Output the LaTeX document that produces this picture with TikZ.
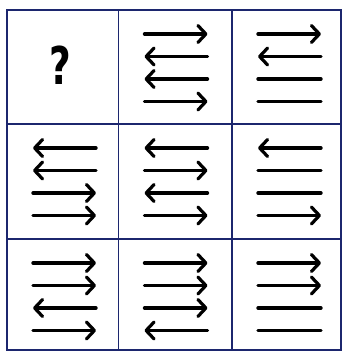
\documentclass[tikz,border=0pt]{standalone}
\usepackage{fontspec}
\usepackage{tikz}
\usetikzlibrary{arrows.meta}
\newfontfamily\qfont{DejaVu Sans}
\definecolor{gridblue}{RGB}{28,38,110}

\begin{document}
\begin{tikzpicture}[
    x=1pt, y=-1pt,
    grid/.style={draw=gridblue, line width=1.8pt},
    bar/.style={line width=3.4pt, line cap=round},
    barb/.tip={Straight Barb[length=8pt, width=17pt, line width=3.2pt, round]},
    dir r/.style={-barb},
    dir l/.style={barb-},
    dir n/.style={},
  ]
  \useasboundingbox (0,0) rectangle (345,354);

  % grid
  \draw[grid] (7,10) rectangle (341,350);
  \draw[grid] (118.5,10) -- (118.5,350);
  \draw[grid] (232,10) -- (232,350);
  \draw[grid] (7,124) -- (341,124);
  \draw[grid] (7,239) -- (341,239);

  % missing cell
  \node[font=\qfont\bfseries\fontsize{52}{52}\selectfont, xscale=0.72] (qmark) at (60,65) {?};

  % arrow cells: left/top of cell, then the four rows
  \foreach \cx/\cy/\a/\b/\c/\d in {
      118.5/10/r/l/l/r, 232/10/r/l/n/n,
      7/124/l/l/r/r, 118.5/124/l/r/l/r, 232/124/l/n/n/r,
      7/239/r/r/l/r, 118.5/239/r/r/r/l, 232/239/r/r/n/n} {
    \foreach \k/\t in {0/\a,1/\b,2/\c,3/\d} {
      \coordinate (s) at (\cx+26,\cy+24+22.5*\k);
      \coordinate (e) at (\cx+89,\cy+24+22.5*\k);
      \draw[bar, dir \t] (s) -- (e);
    }
  }
\end{tikzpicture}
\end{document}
